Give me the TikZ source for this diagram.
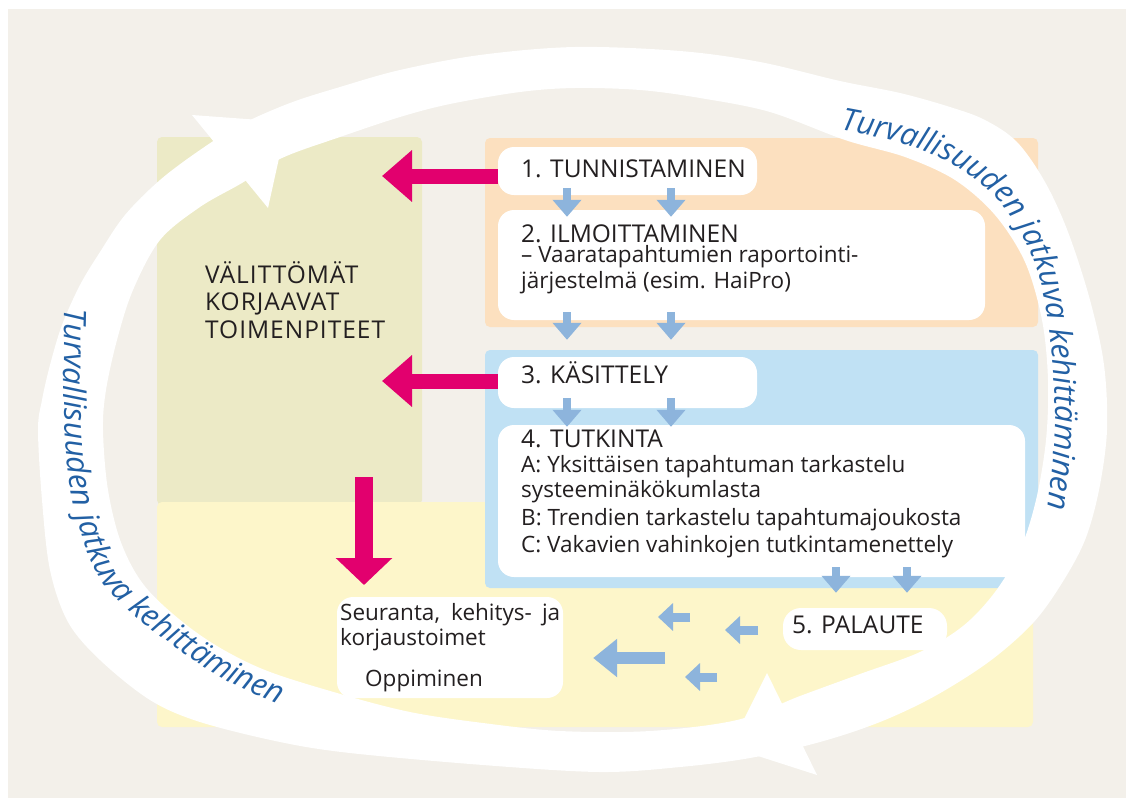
\documentclass[tikz,border=0pt]{standalone}
\usepackage{fontspec}
\setmainfont{Open Sans}
\usetikzlibrary{arrows.meta,decorations.text}

\definecolor{pagebeige}{HTML}{F3F0EA}
\definecolor{olivepanel}{HTML}{ECEAC6}
\definecolor{yellowpanel}{HTML}{FDF6CA}
\definecolor{peachpanel}{HTML}{FCE0BF}
\definecolor{bluepanel}{HTML}{C0E1F4}
\definecolor{hotpink}{HTML}{E2006E}
\definecolor{steelarrow}{HTML}{8DB4DC}
\definecolor{ringblue}{HTML}{2260A4}
\definecolor{ink}{HTML}{231F20}

\newcommand\ringfont{\fontsize{31}{34}\selectfont\itshape}

\begin{document}
\begin{tikzpicture}[x=1pt,y=1pt,
  panel/.style={fill=#1, draw=none, rounded corners=5pt, inner sep=0pt},
  card/.style={fill=white, draw=none, rounded corners=16pt, inner sep=0pt},
  headline/.style={anchor=base west, inner sep=0pt, text=ink, font=\fontsize{24.5}{29}\selectfont},
  bodyline/.style={anchor=base west, inner sep=0pt, text=ink, font=\fontsize{22.5}{27}\selectfont},
  pinkflow/.style={draw=hotpink, line width=15pt, -{Triangle[length=30pt,width=50pt]}},
  pinkdown/.style={draw=hotpink, line width=18pt, -{Triangle[length=27pt,width=55pt]}},
  flowdown/.style={draw=steelarrow, line width=8pt, -{Triangle[length=17pt,width=28pt]}},
  flowback/.style={draw=steelarrow, line width=9pt, -{Triangle[length=15pt,width=27pt]}},
  flowbig/.style={draw=steelarrow, line width=12pt, -{Triangle[length=24pt,width=37pt]}},
  ringtext/.style={decorate, decoration={text along path, text align=left,
      text color=ringblue, text={|\ringfont|#1}}}
]
\useasboundingbox (0,0) rectangle (1126,-798);
\fill[white] (0,0) rectangle (1126,-798);
\fill[pagebeige] (8,-9) rectangle (1126,-798);

% colour panels
\node[panel=olivepanel, minimum width=265pt, minimum height=368pt] (fixpanel) at (289.5,-321) {};
\node[panel=yellowpanel, minimum width=876pt, minimum height=225pt] (followpanel) at (595,-614.5) {};
\node[panel=peachpanel, minimum width=553pt, minimum height=189pt] (reportpanel) at (761.5,-232.5) {};
\node[panel=bluepanel, minimum width=553pt, minimum height=238pt] (handlepanel) at (761.5,-469) {};

% white improvement ring
\fill[white, even odd rule]
  plot[smooth cycle, tension=0.55] coordinates {
    (38,-430) (42,-500) (50,-570) (68,-622) (100,-660) (150,-700) (200,-722)
    (280,-742) (350,-753) (483,-765) (600,-772) (680,-767) (750,-758) (820,-742)
    (880,-722) (935,-696) (990,-661) (1033,-623) (1062,-583) (1085,-540)
    (1099,-490) (1107,-430) (1104,-365) (1090,-300) (1068,-232) (1045,-182)
    (1017,-142) (985,-120) (950,-107) (900,-93) (840,-81) (760,-62) (680,-51)
    (575,-47) (480,-55) (400,-70) (340,-87) (290,-103) (240,-125) (200,-150)
    (160,-180) (125,-215) (100,-252) (80,-285) (62,-325) (50,-365) (42,-400)}
  plot[smooth cycle, tension=0.55] coordinates {
    (103,-430) (108,-490) (122,-545) (148,-590) (200,-635) (260,-668) (337,-693)
    (410,-712) (483,-723) (560,-731) (650,-731) (737,-720) (800,-696) (860,-674)
    (920,-652) (963,-626) (995,-592) (1020,-550) (1036,-500) (1046,-440)
    (1048,-380) (1042,-320) (1025,-262) (995,-215) (955,-180) (905,-157)
    (845,-140) (770,-112) (700,-98) (640,-90) (575,-88) (520,-92) (450,-104)
    (400,-117) (340,-137) (282,-158) (242,-183) (200,-207) (160,-240)
    (133,-290) (117,-340) (106,-390)};
% ring arrowheads
\fill[white] (192,-115) -- (287,-122) -- (268,-208) -- cycle;
\fill[white] (767,-673) -- (730,-747) -- (817,-775) -- cycle;

% ring captions
\path[ringtext={Turvallisuuden jatkuva kehittäminen}]
  plot[smooth, tension=0.6] coordinates {(65,-308) (64,-400) (68,-470) (80,-530)
    (100,-578) (128,-610) (160,-636) (220,-677) (287,-708) (340,-726) (400,-742)};
\path[ringtext={Turvallisuuden jatkuva kehittäminen}]
  plot[smooth, tension=0.6] coordinates {(840,-130) (900,-143) (950,-163) (993,-195)
    (1025,-240) (1045,-300) (1053,-370) (1055,-430) (1050,-490) (1042,-550)
    (1028,-610)};

% process cards
\node[card, minimum width=259pt, minimum height=48pt] (b1) at (627.5,-171) {};
\node[card, minimum width=487pt, minimum height=110pt] (b2) at (741.5,-265) {};
\node[card, minimum width=259pt, minimum height=51pt] (b3) at (627.5,-382.5) {};
\node[card, minimum width=527pt, minimum height=152pt] (b4) at (761.5,-501) {};
\node[card, minimum width=164pt, minimum height=42pt, rounded corners=18pt] (b5) at (865,-629) {};
\node[card, minimum width=226pt, minimum height=101pt] (b6) at (450,-647.5) {};

% texts
\node[headline, font=\fontsize{24.5}{29}\selectfont\addfontfeatures{LetterSpace=4}] (fix1) at (205,-283) {VÄLITTÖMÄT};
\node[headline, font=\fontsize{24.5}{29}\selectfont\addfontfeatures{LetterSpace=4}] (fix2) at (205,-310) {KORJAAVAT};
\node[headline, font=\fontsize{24.5}{29}\selectfont\addfontfeatures{LetterSpace=4}] (fix3) at (205,-338) {TOIMENPITEET};

\node[headline] (t1) at (521,-177) {1. TUNNISTAMINEN};
\node[headline] (t2) at (521,-242) {2. ILMOITTAMINEN};
\node[bodyline] (t2a) at (521,-262) {– Vaaratapahtumien raportointi-};
\node[bodyline] (t2b) at (521,-288) {järjestelmä (esim. HaiPro)};
\node[headline] (t3) at (521,-383) {3. KÄSITTELY};
\node[headline] (t4) at (521,-447) {4. TUTKINTA};
\node[bodyline] (t4a) at (521,-472) {A: Yksittäisen tapahtuman tarkastelu};
\node[bodyline] (t4b) at (521,-497) {systeeminäkökumlasta};
\node[bodyline] (t4c) at (521,-525) {B: Trendien tarkastelu tapahtumajoukosta};
\node[bodyline] (t4d) at (521,-552) {C: Vakavien vahinkojen tutkintamenettely};
\node[headline] (t5) at (792,-633) {5. PALAUTE};
\node[bodyline] (t6a) at (340,-620) {\makebox[220pt][s]{Seuranta, kehitys- ja}};
\node[bodyline] (t6b) at (340,-645) {korjaustoimet};
\node[bodyline] (t6c) at (365,-686) {Oppiminen};

% immediate corrective actions
\coordinate (p1tip) at (382,-176);
\coordinate (p2tip) at (382,-381);
\coordinate (p3top) at (364,-477);
\coordinate (p3tip) at (364,-585);
\draw[pinkflow] (p1tip -| b1.west) -- (p1tip);
\draw[pinkflow] (p2tip -| b3.west) -- (p2tip);
\draw[pinkdown] (p3top) -- (p3tip);

% process flow
\draw[flowdown] ([xshift=-60.5pt,yshift=7pt]b1.south) -- ([xshift=-174.5pt,yshift=-7pt]b2.north);
\draw[flowdown] ([xshift=43.5pt,yshift=7pt]b1.south) -- ([xshift=-70.5pt,yshift=-7pt]b2.north);
\draw[flowdown] ([xshift=-174.5pt,yshift=8pt]b2.south) -- ([xshift=-60.5pt,yshift=17pt]b3.north);
\draw[flowdown] ([xshift=-70.5pt,yshift=8pt]b2.south) -- ([xshift=43.5pt,yshift=17pt]b3.north);
\draw[flowdown] ([xshift=-60.5pt,yshift=10pt]b3.south) -- ([xshift=-194.5pt,yshift=-2pt]b4.north);
\draw[flowdown] ([xshift=43.5pt,yshift=10pt]b3.south) -- ([xshift=-90.5pt,yshift=-2pt]b4.north);
\draw[flowdown] ([xshift=74.5pt,yshift=10pt]b4.south) -- ([xshift=-29pt,yshift=15pt]b5.north);
\draw[flowdown] ([xshift=145.5pt,yshift=10pt]b4.south) -- ([xshift=42pt,yshift=15pt]b5.north);

% feedback
\coordinate (fa1) at (690,-617); \coordinate (fa1e) at (658,-617);
\coordinate (fa2) at (758,-630); \coordinate (fa2e) at (725,-630);
\coordinate (fa3) at (717,-677); \coordinate (fa3e) at (685,-677);
\coordinate (fb) at (665,-658);
\draw[flowback] (fa1) -- (fa1e);
\draw[flowback] (fa2) -- (fa2e);
\draw[flowback] (fa3) -- (fa3e);
\draw[flowbig] (fb) -- ([xshift=30pt]b6.east |- fb);
\end{tikzpicture}
\end{document}
